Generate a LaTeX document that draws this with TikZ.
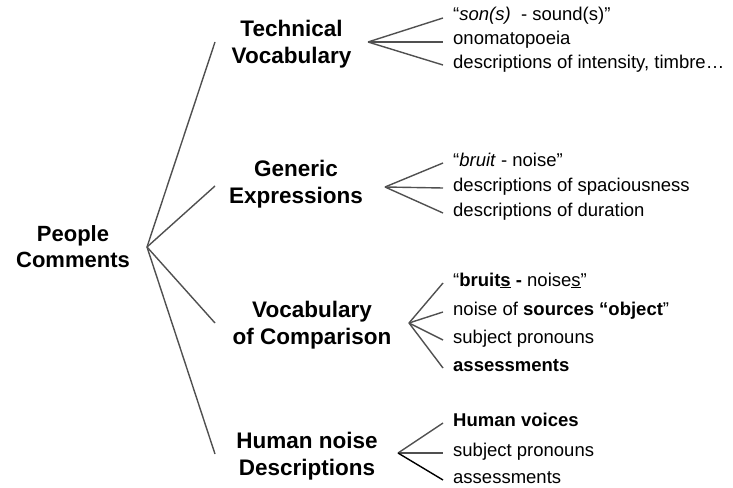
\documentclass[tikz,border=0pt]{standalone}
\usepackage{fontspec}
\setmainfont{Liberation Sans}
\definecolor{linegray}{RGB}{80,80,80}
\begin{document}
\begin{tikzpicture}[x=1pt,y=-1pt,
  cat/.style={font=\fontsize{22.5}{27}\selectfont\bfseries, align=center, inner sep=0pt},
  item/.style={font=\fontsize{18.5}{22}\selectfont, anchor=base west, inner xsep=10pt, inner ysep=0pt, text height=6pt, text depth=0pt},
  conn/.style={draw=linegray, line width=1.4pt},
]
\useasboundingbox (0,0) rectangle (733,487);

% root
\node[cat, font=\fontsize{22}{26}\selectfont\bfseries] (root) at (73,246.5) {People\\Comments};
\coordinate (rh) at (147,247);

% categories
\node[cat] (tech) at (291.5,43.8) {Technical\\Vocabulary};
\node[cat] (gen)  at (296,184) {Generic\\Expressions};
\node[cat] (comp) at (312,325) {Vocabulary\\of Comparison};
\node[cat] (hum)  at (307,456) {Human noise\\Descriptions};

\coordinate (tin) at (215,42);
\coordinate (gin) at (215,186);
\coordinate (cin) at (215,323);
\coordinate (hin) at (215,454);

\coordinate (tf) at (368,42);
\coordinate (gf) at (385,187);
\coordinate (cf) at (409,323);
\coordinate (hf) at (398,453);

% items
\node[item] (t1) at (443,21) {“\textit{son(s)}\ \ - sound(s)”};
\node[item] (t2) at (443,45) {onomatopoeia};
\node[item] (t3) at (443,68) {descriptions of intensity, timbre…};

\node[item] (g1) at (443,166) {“\textit{bruit} - noise”};
\node[item] (g2) at (443,191) {descriptions of spaciousness};
\node[item] (g3) at (443,216) {descriptions of duration};

\node[item] (c1) at (443,286) {“\textbf{bruit\underline{s} -} noise\underline{s}”};
\node[item] (c2) at (443,315) {noise of \textbf{sources “object}”};
\node[item] (c3) at (443,343) {subject pronouns};
\node[item] (c4) at (443,371) {\textbf{assessments}};

\node[item] (h1) at (443,426) {\textbf{Human voices}};
\node[item] (h2) at (443,456) {subject pronouns};
\node[item] (h3) at (443,483) {assessments};

% connectors
\foreach \e in {tin,gin,cin,hin} \draw[conn] (rh) -- (\e);
\foreach \e in {t1,t2,t3} \draw[conn] (tf) -- (\e.west);
\foreach \e in {g1,g2,g3} \draw[conn] (gf) -- (\e.west);
\foreach \e in {c1,c2,c3,c4} \draw[conn] (cf) -- (\e.west);
\foreach \e in {h1,h2} \draw[conn] (hf) -- (\e.west);
\draw[conn, draw=black] (hf) -- (h3.west);
\end{tikzpicture}
\end{document}
